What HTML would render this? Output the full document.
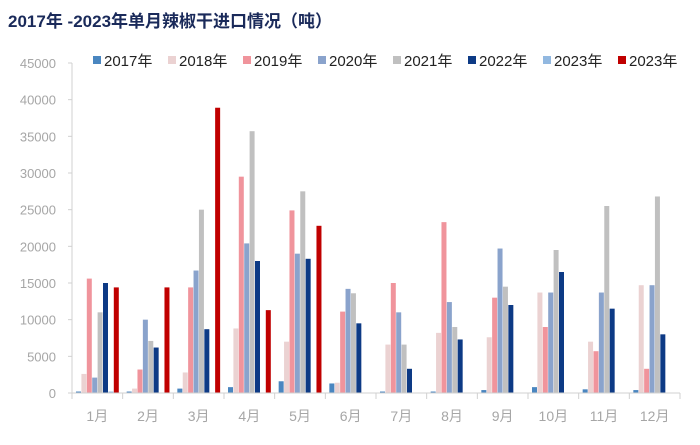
<!DOCTYPE html>
<html><head><meta charset="utf-8"><style>
body{margin:0;background:#fff;}
svg text{font-family:"Liberation Sans","Noto Sans CJK SC",sans-serif;}
</style></head><body>
<svg width="700" height="440" xmlns="http://www.w3.org/2000/svg" id="chart">
<rect width="700" height="440" fill="#fff"/>
<text x="8" y="27" font-size="17" font-weight="bold" fill="#1a2a5a">2017年 -2023年单月辣椒干进口情况（吨）</text>
<g id="legend"></g><g id="yaxis"></g><g id="bars"></g><g id="xaxis"></g>
</svg>
<script>
const categories=["1月","2月","3月","4月","5月","6月","7月","8月","9月","10月","11月","12月"];
const seriesNames=["2017年","2018年","2019年","2020年","2021年","2022年","2023年","2023年"];
const s2017=[200,200,600,800,1600,1300,200,200,400,800,500,400];
const s2018=[2600,600,2800,8800,7000,1400,6600,8200,7600,13700,7000,14700];
const s2019=[15600,3200,14400,29500,24900,11100,15000,23300,13000,9000,5700,3300];
const s2020=[2100,10000,16700,20400,19000,14200,11000,12400,19700,13700,13700,14700];
const s2021=[11000,7100,25000,35700,27500,13600,6600,9000,14500,19500,25500,26800];
const s2022=[15000,6200,8700,18000,18300,9500,3300,7300,12000,16500,11500,8000];
const s2023a=[200,0,0,0,0,0,0,0,0,0,0,0];
const s2023b=[14400,14400,38900,11300,22800,0,0,0,0,0,0,0];
const yTicks=[0,5000,10000,15000,20000,25000,30000,35000,40000,45000];
const colors=["#4a86c0","#ebd2d2","#f0949c","#8aa3cc","#c0c0c0","#0d3a85","#92b8e0","#c00000"];
const series=[s2017,s2018,s2019,s2020,s2021,s2022,s2023a,s2023b];
const NS="http://www.w3.org/2000/svg";
const x0=72,x1=680,y0=393,yTop=63,yMax=45000;
const catW=(x1-x0)/categories.length;
const y=v=>y0-(v/yMax)*(y0-yTop);
function mk(t,a,p){const e=document.createElementNS(NS,t);for(const k in a)e.setAttribute(k,a[k]);p.appendChild(e);return e;}
const ya=document.getElementById('yaxis');
mk('line',{x1:x0,x2:x0,y1:yTop,y2:y0,stroke:'#d0d0d0'},ya);
yTicks.forEach(t=>{
  const tx=mk('text',{x:56,y:y(t)+5,'text-anchor':'end','font-size':13,fill:'#a6a6a6'},ya);
  tx.textContent=t;
  
  
  mk('line',{x1:x0-4,x2:x0,y1:y(t),y2:y(t),stroke:'#d0d0d0'},ya);
});
const xa=document.getElementById('xaxis');
mk('line',{x1:x0,x2:x1,y1:y0,y2:y0,stroke:'#d0d0d0'},xa);
categories.forEach((c,i)=>{
  const xs=x0+i*catW;
  mk('line',{x1:xs,x2:xs,y1:y0,y2:y0+6,stroke:'#d0d0d0'},xa);
  const tx=mk('text',{x:xs+catW/2,y:421,'text-anchor':'middle','font-size':14,fill:'#a6a6a6','font-family':'"Liberation Serif","Noto Serif CJK SC",serif'},xa);
  tx.textContent=c;
  
  
});
mk('line',{x1:x1,x2:x1,y1:y0,y2:y0+6,stroke:'#d0d0d0'},xa);
const bg=document.getElementById('bars');
series.forEach((s,si)=>{
  s.forEach((v,i)=>{
    if(!v)return;
    const r=mk('rect',{x:x0+i*catW+4+si*5.4,y:y(v),width:5,height:y0-y(v),fill:colors[si]},bg);
    
    
  });
});
const lg=document.getElementById('legend');
const lx=[93,168,243,318,393,468,543,618];
seriesNames.forEach((n,i)=>{
  const g=mk('g',{},lg);
  
  
  mk('rect',{x:lx[i],y:56,width:8,height:8,fill:colors[i]},g);
  const t=mk('text',{x:lx[i]+11,y:66,'font-size':15,fill:'#222'},g);
  t.textContent=n;
});
</script>
</body></html>
